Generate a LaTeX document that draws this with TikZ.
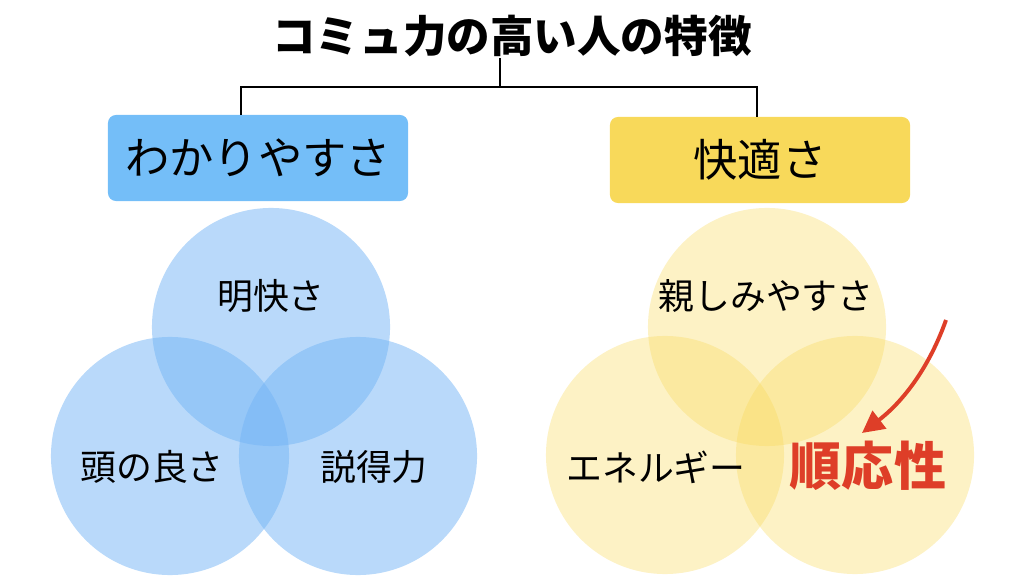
\documentclass[tikz,border=0pt]{standalone}
\usepackage{fontspec}
\setmainfont{Noto Sans CJK JP}
\usetikzlibrary{positioning,arrows.meta}
\definecolor{boxblue}{RGB}{116,190,248}
\definecolor{boxyellow}{RGB}{248,217,90}
\definecolor{vennblue}{RGB}{115,180,245}
\definecolor{vennyellow}{RGB}{248,217,90}
\definecolor{accentred}{RGB}{222,62,40}

\tikzset{
    catbox/.style={rounded corners=0.2cm, minimum width=7.5cm, minimum height=2.15cm, font=\fontsize{31.5}{34}\selectfont},
    venn/.style={circle, minimum size=5.95cm, inner sep=0pt},
    vennlabel/.style={font=\fontsize{25.5}{28}\selectfont},
}

\begin{document}
\begin{tikzpicture}[x=0.025cm,y=-0.025cm]
    \useasboundingbox (0,0) rectangle (1024,576);
    \node[font=\bfseries\fontsize{31}{34}\selectfont] (title) at (512,36) {コミュ力の高い人の特徴};
    \node[catbox, fill=boxblue] (wakari) at (258,158) {わかりやすさ};
    \node[catbox, fill=boxyellow] (kaiteki) at (760,160) {快適さ};
    \coordinate (stem) at (500,58);
    \coordinate (split) at (500,87);
    \coordinate (lt) at (241,87);
    \coordinate (rt) at (757,87);
    \draw[line width=1.2pt] (stem) -- (split);
    \draw[line width=1.2pt] (lt |- wakari.north) -- (lt) -- (rt) -- (rt |- kaiteki.north);
    % blue venn
    \node[venn, fill=vennblue, fill opacity=0.5] (meikai) at (271,327) {};
    \node[venn, fill=vennblue, fill opacity=0.5] (atama) at (170,456) {};
    \node[venn, fill=vennblue, fill opacity=0.5] (settoku) at (358,456) {};
    \node[vennlabel] (meikaitext) at (271,296) {明快さ};
    \node[vennlabel] (atamatext) at (152,467) {頭の良さ};
    \node[vennlabel] (settokutext) at (374,467) {説得力};
    % yellow venn
    \node[venn, fill=vennyellow, fill opacity=0.35] (shitashimi) at (767,327) {};
    \node[venn, fill=vennyellow, fill opacity=0.35] (energy) at (665,455) {};
    \node[venn, fill=vennyellow, fill opacity=0.35] (junno) at (855,455) {};
    \node[vennlabel] (shitashimitext) at (766,296) {親しみやすさ};
    \node[vennlabel] (energytext) at (656,467) {エネルギー};
    \node[font=\bfseries\fontsize{37}{40}\selectfont, text=accentred] (junnotext) at (868,466) {順応性};
    \coordinate (arrowtail) at (946,320);
    \coordinate (arrowhead) at (862,433);
    \draw[accentred, line width=2.8pt, -{Triangle[length=0.55cm,width=0.55cm]}] (arrowtail) .. controls (930,365) and (905,400) .. (arrowhead);
\end{tikzpicture}
\end{document}
